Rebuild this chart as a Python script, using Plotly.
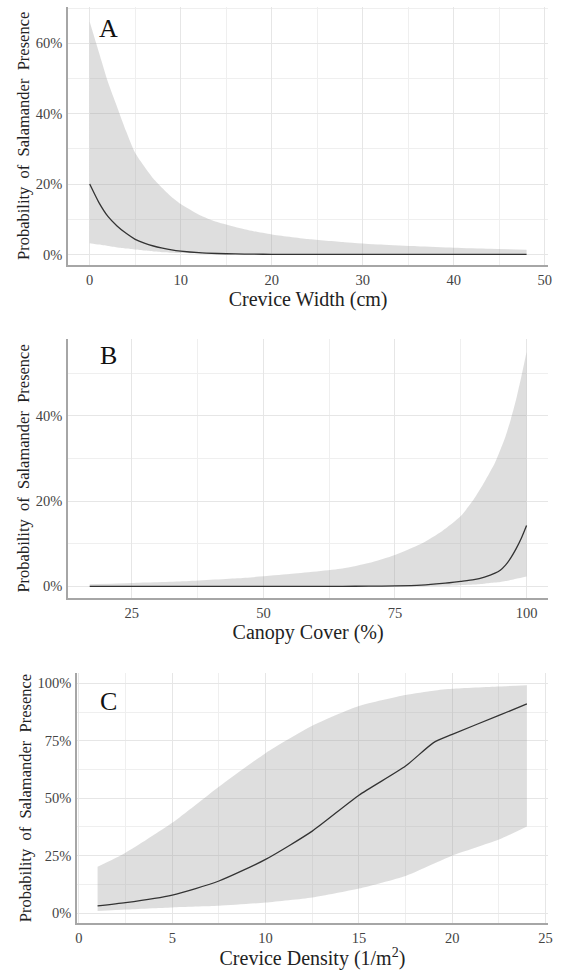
import plotly.graph_objects as go

# ---------------- Panel A: Crevice Width ----------------
width_cm = [0, 1, 2, 3, 4, 5, 6, 7, 8, 9, 10, 12, 14, 16, 18, 20, 24, 28, 32, 36, 40, 44, 48]
width_upper = [66.1, 57.5, 49, 42, 35, 28.8, 25, 21.5, 18.8, 16.3, 14.3, 11.3, 9.2, 7.8, 6.6, 5.7,
               4.4, 3.5, 2.8, 2.3, 1.9, 1.6, 1.35]
width_mean = [20, 14.8, 10.8, 8.1, 6.0, 4.3, 3.2, 2.4, 1.8, 1.3, 0.95, 0.5, 0.27, 0.14, 0.07, 0.04,
              0.01, 0, 0, 0, 0, 0, 0]
width_lower = [3.2, 2.8, 2.4, 2.0, 1.7, 1.4, 1.1, 0.85, 0.65, 0.5, 0.38, 0.2, 0.1, 0.05, 0.02, 0.01,
               0, 0, 0, 0, 0, 0, 0]

# ---------------- Panel B: Canopy Cover ----------------
canopy_pct = [17, 25, 35, 45, 55, 65, 70, 75, 80, 84, 87.5, 90, 92, 94, 95, 96, 97, 98, 99, 100]
canopy_mean = [0, 0, 0, 0, 0.01, 0.03, 0.06, 0.12, 0.3, 0.7, 1.2, 1.6, 2.2, 3.1, 3.8, 5.0, 6.7, 8.8, 11.3, 14.3]
canopy_upper = [0.5, 0.8, 1.2, 1.9, 2.9, 4.2, 5.5, 7.4, 10, 13, 16.5, 20.5, 24.5, 29.0, 32, 35.2, 39.2, 43.8, 49.2, 55]
canopy_lower = [0, 0, 0, 0, 0, 0, 0, 0.01, 0.05, 0.15, 0.3, 0.45, 0.65, 0.9, 1.05, 1.25, 1.5, 1.8, 2.05, 2.35]

# ---------------- Panel C: Crevice Density ----------------
density = [1, 2.5, 5, 7.5, 10, 12.5, 15, 17.5, 19, 20, 22.5, 24]
density_mean = [3.2, 4.6, 7.9, 14, 23.4, 35.7, 51.3, 64, 74.2, 77.8, 86, 91]
density_upper = [20.2, 26.3, 39.3, 55, 69.6, 81.5, 90.1, 94.9, 96.8, 97.6, 98.6, 99.1]
density_lower = [1.0, 1.6, 2.5, 3.2, 4.6, 6.8, 10.7, 16.2, 21.5, 25, 32, 37.7]

# ticks
xticks_a = [0, 10, 20, 30, 40, 50]
xticks_b = [25, 50, 75, 100]
xticks_c = [0, 5, 10, 15, 20, 25]
yticks_a = [0, 20, 40, 60]
yticks_b = [0, 20, 40]
yticks_c = [0, 25, 50, 75, 100]

FONT = "Liberation Serif, Times New Roman, serif"
BAND = "rgba(153,153,153,0.32)"
LINE = "#333333"
GRID = "#e6e6e6"
MINOR = "#efefef"
AXLINE = "#a6a6a6"

fig = go.Figure()

panels = [
    ("", width_cm, width_lower, width_upper, width_mean),
    ("2", canopy_pct, canopy_lower, canopy_upper, canopy_mean),
    ("3", density, density_lower, density_upper, density_mean),
]
for suf, xs, lo, up, mn in panels:
    xa, ya = "x" + suf, "y" + suf
    fig.add_trace(go.Scatter(x=xs, y=lo, mode="lines", line=dict(width=0, color=BAND, shape="spline", smoothing=0.6),
                             xaxis=xa, yaxis=ya, showlegend=False, hoverinfo="skip"))
    fig.add_trace(go.Scatter(x=xs, y=up, mode="lines", line=dict(width=0, color=BAND, shape="spline", smoothing=0.6),
                             fill="tonexty", fillcolor=BAND,
                             xaxis=xa, yaxis=ya, showlegend=False, hoverinfo="skip"))
    fig.add_trace(go.Scatter(x=xs, y=mn, mode="lines", line=dict(width=1.3, color=LINE, shape="spline", smoothing=0.6),
                             xaxis=xa, yaxis=ya, showlegend=False))

W, H = 562, 970


def xdom(l, r):
    return [l / W, r / W]


def ydom(top, bot):
    return [(H - bot) / H, (H - top) / H]


def xaxis(dom, rng, ticks, dt, anchor, title):
    return dict(domain=dom, range=rng, tickvals=ticks, ticktext=[str(t) for t in ticks], anchor=anchor,
                showline=True, linecolor=AXLINE, linewidth=1.5,
                showgrid=True, gridcolor=GRID, gridwidth=1, zeroline=False,
                ticks="outside", ticklen=1, tickcolor="rgba(0,0,0,0)",
                tickfont=dict(family=FONT, size=14.5, color="#444444"),
                minor=dict(dtick=dt / 2, tick0=0, showgrid=True, gridcolor=MINOR, gridwidth=1),
                title=dict(text=title, font=dict(family=FONT, size=20, color="#222222"), standoff=4))


def yaxis(dom, rng, ticks, dt, anchor):
    return dict(domain=dom, range=rng, tickvals=ticks, ticktext=[f"{t}%" for t in ticks], anchor=anchor,
                showline=True, linecolor=AXLINE, linewidth=1.5,
                showgrid=True, gridcolor=GRID, gridwidth=1, zeroline=False,
                ticks="outside", ticklen=1, tickcolor="rgba(0,0,0,0)",
                tickfont=dict(family=FONT, size=14.5, color="#444444"),
                minor=dict(dtick=dt / 2, tick0=0, showgrid=True, gridcolor=MINOR, gridwidth=1),
                title=dict(text="Probability  of  Salamander  Presence",
                           font=dict(family=FONT, size=16.5, color="#222222"), standoff=2))


fig.update_layout(
    width=W, height=H, autosize=False,
    margin=dict(l=0, r=0, t=0, b=0),
    font=dict(family=FONT, color="#333333"),
    paper_bgcolor="white", plot_bgcolor="white",
    xaxis=xaxis(xdom(66.7, 553.3), [-2.4, 50.4], xticks_a, 10, "y", "Crevice Width (cm)"),
    yaxis=yaxis(ydom(6.7, 265), [-3.0, 70.4], yticks_a, 20, "x"),
    xaxis2=xaxis(xdom(66.7, 553.3), [12.85, 104.15], xticks_b, 25, "y2", "Canopy Cover (%)"),
    yaxis2=yaxis(ydom(339.3, 597.5), [-2.6, 58.0], yticks_b, 20, "x2"),
    xaxis3=xaxis(xdom(76, 552.7), [-0.1, 25.12], xticks_c, 5, "y3", "Crevice Density (1/m<sup>2</sup>)"),
    yaxis3=yaxis(ydom(672.7, 923.3), [-4.4, 104.6], yticks_c, 25, "x3"),
)

for letter, ypx in [("A", 28), ("B", 355), ("C", 701.7)]:
    fig.add_annotation(text=letter, x=108 / W, y=1 - ypx / H, xref="paper", yref="paper",
                       showarrow=False, xanchor="center", yanchor="middle",
                       font=dict(family=FONT, size=26, color="#111111"))

fig.write_html("out.html", config={"displayModeBar": False},
               post_script="document.body.style.margin='0';document.body.style.overflow='hidden';")
